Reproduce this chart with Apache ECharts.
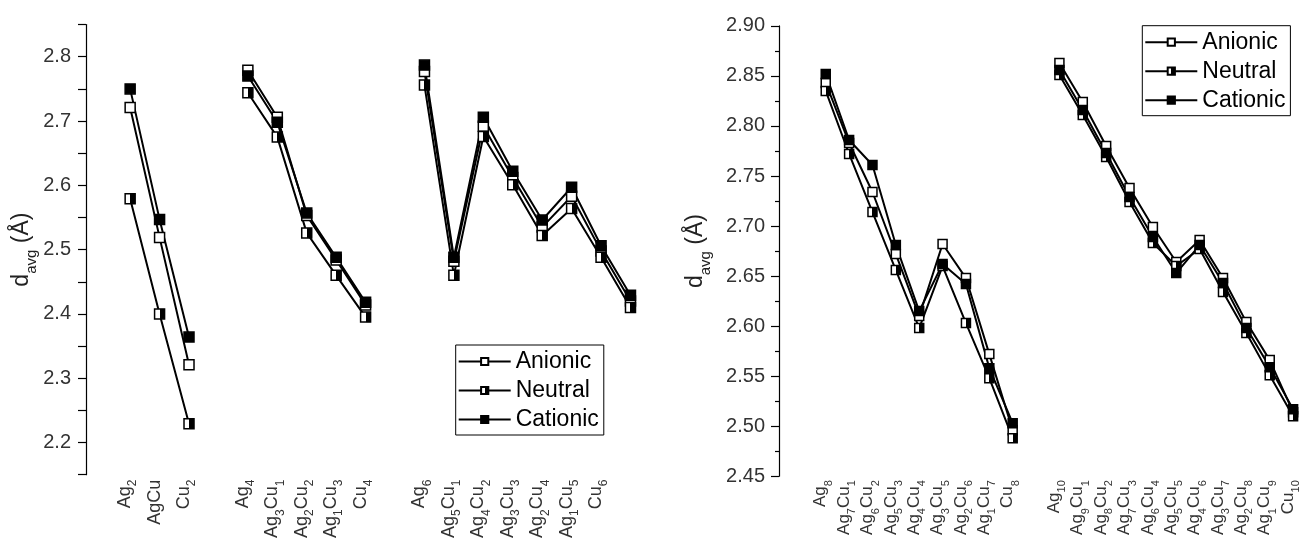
<!DOCTYPE html>
<html>
<head>
<meta charset="utf-8">
<script src="https://cdn.jsdelivr.net/npm/echarts@6/dist/echarts.min.js"></script>
<style>
html,body{margin:0;padding:0;background:#fff;}
#c{width:1308px;height:541px;}
</style>
</head>
<body>
<div id="c"></div>
<script>
// ---- Data ----
const leftCats = ['', 'Ag_2', 'AgCu', 'Cu_2', '', 'Ag_4', 'Ag_3Cu_1', 'Ag_2Cu_2', 'Ag_1Cu_3', 'Cu_4', '',
  'Ag_6', 'Ag_5Cu_1', 'Ag_4Cu_2', 'Ag_3Cu_3', 'Ag_2Cu_4', 'Ag_1Cu_5', 'Cu_6', ''];
const anionicL  = [null, 2.721, 2.519, 2.321, null, 2.779, 2.706, 2.553, 2.484, 2.414, null, 2.777, 2.482, 2.692, 2.612, 2.535, 2.583, 2.498, 2.420];
const neutralL  = [null, 2.579, 2.400, 2.229, null, 2.744, 2.675, 2.526, 2.460, 2.395, null, 2.756, 2.460, 2.676, 2.601, 2.522, 2.564, 2.488, 2.410];
const cationicL = [null, 2.750, 2.547, 2.364, null, 2.770, 2.698, 2.557, 2.488, 2.418, null, 2.787, 2.488, 2.706, 2.622, 2.546, 2.597, 2.506, 2.429];

const rightCats = ['', '', 'Ag_8', 'Ag_7Cu_1', 'Ag_6Cu_2', 'Ag_5Cu_3', 'Ag_4Cu_4', 'Ag_3Cu_5', 'Ag_2Cu_6', 'Ag_1Cu_7', 'Cu_8', '',
  'Ag_10', 'Ag_9Cu_1', 'Ag_8Cu_2', 'Ag_7Cu_3', 'Ag_6Cu_4', 'Ag_5Cu_5', 'Ag_4Cu_6', 'Ag_3Cu_7', 'Ag_2Cu_8', 'Ag_1Cu_9', 'Cu_10'];
const anionicR  = [null, null, 2.843, 2.783, 2.734, 2.672, 2.610, 2.682, 2.648, 2.572, 2.496, null, 2.863, 2.824, 2.780, 2.738, 2.699, 2.664, 2.686, 2.648, 2.604, 2.566, 2.514];
const neutralR  = [null, null, 2.835, 2.772, 2.714, 2.656, 2.598, 2.660, 2.603, 2.548, 2.488, null, 2.851, 2.811, 2.769, 2.724, 2.683, 2.660, 2.677, 2.634, 2.593, 2.551, 2.510];
const cationicR = [null, null, 2.852, 2.786, 2.761, 2.681, 2.615, 2.662, 2.642, 2.558, 2.503, null, 2.856, 2.816, 2.773, 2.729, 2.689, 2.653, 2.681, 2.643, 2.598, 2.559, 2.517];

const seriesNames = ['Anionic', 'Neutral', 'Cationic'];
const yTitle = 'd_avg (Å)';

// ---- Styling helpers ----
const FONT = '"Liberation Sans", Arial, sans-serif';
function toRich(s) {
  if (!s) return '';
  return s.split(/(_[a-z0-9]+)/).filter(Boolean).map(t =>
    t[0] === '_' ? '{s|' + t.slice(1) + '}' : '{n|' + t + '}').join('');
}
const halfFill = new echarts.graphic.LinearGradient(0, 0, 1, 0, [
  {offset: 0, color: '#fff'}, {offset: 0.5, color: '#fff'},
  {offset: 0.5, color: '#000'}, {offset: 1, color: '#000'}
]);
const fills = {Anionic: '#fff', Neutral: halfFill, Cationic: '#000'};

function mkSeries(name, data, idx, size) {
  return {
    name: name, type: 'line', data: data,
    xAxisIndex: idx, yAxisIndex: idx,
    symbol: 'rect', symbolSize: size, connectNulls: false,
    lineStyle: {color: '#000', width: 2},
    itemStyle: {color: fills[name], borderColor: '#000', borderWidth: 1.5},
    emphasis: {disabled: true}, animation: false
  };
}
function xAxisCfg(cats, idx, bgap, fs, margin) {
  return {
    type: 'category', gridIndex: idx, data: cats, boundaryGap: bgap,
    axisLine: {show: false}, axisTick: {show: false}, splitLine: {show: false},
    axisLabel: {
      interval: 0, rotate: 90, margin: margin, color: '#333',
      formatter: toRich,
      rich: {
        n: {fontFamily: FONT, fontSize: fs, color: '#333', verticalAlign: 'bottom', lineHeight: fs, padding: [0, 0, 5, 0]},
        s: {fontFamily: FONT, fontSize: Math.round(fs * 0.65), color: '#333', verticalAlign: 'bottom', lineHeight: Math.round(fs * 0.65)}
      }
    }
  };
}
function yAxisCfg(idx, min, max, fmt, gap, minor, margin) {
  return {
    type: 'value', gridIndex: idx, min: min, max: max, interval: 0.05,
    splitLine: {show: false},
    axisLine: {show: true, lineStyle: {color: '#000', width: 1.2}},
    axisTick: {show: true, length: 8, lineStyle: {color: '#000', width: 1.2}},
    minorTick: {show: minor, splitNumber: 2, length: 4, lineStyle: {color: '#000', width: 1.2}},
    axisLabel: {color: '#333', fontFamily: FONT, fontSize: 20, margin: margin, formatter: fmt},
    name: toRich(yTitle), nameLocation: 'middle', nameGap: gap, nameRotate: 90,
    nameTextStyle: {
      rich: {
        n: {fontFamily: FONT, fontSize: 23, color: '#222', verticalAlign: 'bottom', lineHeight: 23, padding: [0, 0, 6, 0]},
        s: {fontFamily: FONT, fontSize: 15, color: '#222', verticalAlign: 'bottom', lineHeight: 15}
      }
    }
  };
}
function legendCfg(left, top) {
  return {
    left: left, top: top, orient: 'vertical',
    data: seriesNames,
    borderColor: '#000', borderWidth: 1, borderRadius: 0,
    padding: [5, 5, 4, 2], itemGap: 6, itemWidth: 52, itemHeight: 9, itemTextGap: 6,
    textStyle: {fontFamily: FONT, fontSize: 23, color: '#000'},
    selectedMode: false
  };
}

const chart = echarts.init(document.getElementById('c'), null, {renderer: 'canvas'});
chart.setOption({
  backgroundColor: '#fff',
  animation: false,
  grid: [
    {left: 86, top: 24.6, width: 559.2, height: 451.8},
    {left: 779, top: 25.9, width: 514.1, height: 450.3}
  ],
  xAxis: [xAxisCfg(leftCats, 0, true, 18, 5), xAxisCfg(rightCats, 1, false, 17, 4)],
  yAxis: [
    yAxisCfg(0, 2.15, 2.85, v => (Math.round(v * 100) % 10 === 0 ? v.toFixed(1) : ''), 41, false, 15),
    yAxisCfg(1, 2.45, 2.90, v => v.toFixed(2), 66, true, 14)
  ],
  legend: [legendCfg(455.7, 345), legendCfg(1142.3, 25.7)],
  series: [
    mkSeries('Anionic', anionicL, 0, 10), mkSeries('Neutral', neutralL, 0, 10), mkSeries('Cationic', cationicL, 0, 10),
    mkSeries('Anionic', anionicR, 1, 9), mkSeries('Neutral', neutralR, 1, 9), mkSeries('Cationic', cationicR, 1, 9)
  ]
});
</script>
</body>
</html>
